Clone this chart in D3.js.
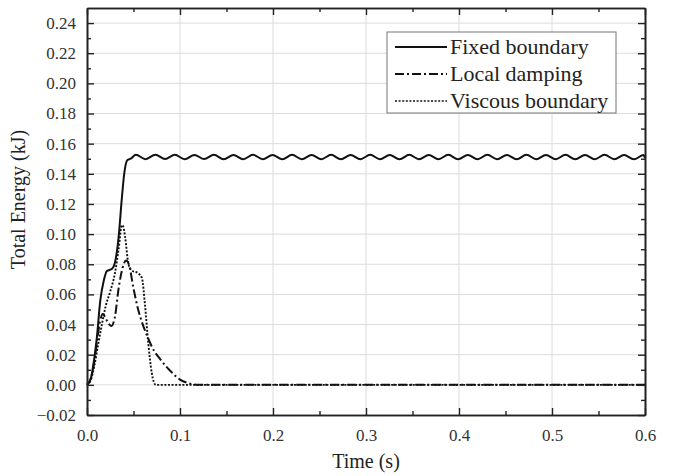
<!DOCTYPE html>
<html>
<head>
<meta charset="utf-8">
<script src="https://cdn.jsdelivr.net/npm/d3@7"></script>
<style>
  body { margin: 0; background: #fff; }
  text { font-family: "Liberation Serif", "Times New Roman", serif; }
</style>
</head>
<body>
<svg id="drawing_region"></svg>
<script>
// axis ticks
const xTicks = [0, 0.1, 0.2, 0.3, 0.4, 0.5, 0.6];
const xMinor = [0.05, 0.15, 0.25, 0.35, 0.45, 0.55];
const yTicks = [-0.02, 0, 0.02, 0.04, 0.06, 0.08, 0.10, 0.12, 0.14, 0.16, 0.18, 0.20, 0.22, 0.24];
const yMinor = [-0.01, 0.01, 0.03, 0.05, 0.07, 0.09, 0.11, 0.13, 0.15, 0.17, 0.19, 0.21, 0.23];

const seriesNames = ["Fixed boundary", "Local damping", "Viscous boundary"];

// Fixed boundary (wavy plateau ~0.151)
const fixedT = [0, 0.004, 0.007, 0.0107, 0.0143, 0.018, 0.0214, 0.027, 0.030, 0.034, 0.0375, 0.040, 0.0433, 0.047,
  0.0525, 0.063, 0.0735, 0.084, 0.0945, 0.105, 0.1155, 0.126, 0.1365, 0.147, 0.1575, 0.168, 0.1785, 0.189, 0.1995,
  0.210, 0.2205, 0.231, 0.2415, 0.252, 0.2625, 0.273, 0.2835, 0.294, 0.3045, 0.315, 0.3255, 0.336, 0.3465, 0.357,
  0.3675, 0.378, 0.3885, 0.399, 0.4095, 0.420, 0.4305, 0.441, 0.4515, 0.462, 0.4725, 0.483, 0.4935, 0.504, 0.5145,
  0.525, 0.5355, 0.546, 0.5565, 0.567, 0.5775, 0.588, 0.5985, 0.6];
const fixedE = [0, 0.004, 0.014, 0.032, 0.056, 0.069, 0.0755, 0.077, 0.081, 0.098, 0.124, 0.140, 0.149, 0.1500,
  0.1526, 0.1497, 0.1527, 0.1498, 0.1526, 0.1497, 0.1525, 0.1498, 0.1526, 0.1496, 0.1525, 0.1497, 0.1526,
  0.1497, 0.1525, 0.1496, 0.1526, 0.1497, 0.1525, 0.1497, 0.1526, 0.1496, 0.1525, 0.1497, 0.1526, 0.1497,
  0.1525, 0.1496, 0.1526, 0.1497, 0.1525, 0.1497, 0.1526, 0.1496, 0.1525, 0.1497, 0.1526, 0.1497, 0.1525,
  0.1496, 0.1526, 0.1497, 0.1525, 0.1497, 0.1526, 0.1496, 0.1525, 0.1497, 0.1526, 0.1497, 0.1525, 0.1496,
  0.1524, 0.1505];

// Local damping
const dampT = [0, 0.004, 0.008, 0.011, 0.014, 0.017, 0.021, 0.026, 0.030, 0.034, 0.038, 0.042, 0.045, 0.050,
  0.055, 0.060, 0.065, 0.070, 0.080, 0.090, 0.100, 0.110, 0.120, 0.6];
const dampE = [0, 0.004, 0.016, 0.030, 0.042, 0.047, 0.043, 0.039, 0.045, 0.064, 0.077, 0.0825, 0.080, 0.064,
  0.050, 0.040, 0.032, 0.025, 0.016, 0.009, 0.0035, 0.001, 0, 0];

// Viscous boundary
const viscT = [0, 0.004, 0.008, 0.012, 0.016, 0.020, 0.025, 0.030, 0.034, 0.0375, 0.039, 0.041, 0.0446, 0.048,
  0.055, 0.059, 0.0625, 0.066, 0.0696, 0.074, 0.6];
const viscE = [0, 0.003, 0.013, 0.027, 0.040, 0.052, 0.062, 0.074, 0.090, 0.106, 0.105, 0.098, 0.080, 0.076,
  0.074, 0.071, 0.052, 0.027, 0.008, 0, 0];

const config = {
  parent: '#drawing_region',
  width: 673,
  height: 476,
  margin: { top: 8, right: 28, bottom: 61, left: 87 }
};

const svg = d3.select(config.parent)
  .attr('width', config.width)
  .attr('height', config.height);

const w = config.width - config.margin.left - config.margin.right;
const h = config.height - config.margin.top - config.margin.bottom;

const chart = svg.append('g')
  .attr('transform', `translate(${config.margin.left}, ${config.margin.top})`);

const x = d3.scaleLinear().domain([0, 0.6]).range([0, w]);
const y = d3.scaleLinear().domain([-0.02, 0.25]).range([h, 0]);

// grid
chart.append('g')
  .selectAll('line.vg')
  .data(xTicks.slice(1, -1))
  .join('line')
  .attr('x1', d => x(d)).attr('x2', d => x(d))
  .attr('y1', 0).attr('y2', h)
  .attr('stroke', '#dcdcdc').attr('stroke-width', 1);

chart.append('g')
  .selectAll('line.hg')
  .data(yTicks.slice(1))
  .join('line')
  .attr('x1', 0).attr('x2', w)
  .attr('y1', d => y(d)).attr('y2', d => y(d))
  .attr('stroke', '#dcdcdc').attr('stroke-width', 1);

// lines
const line = (ts, es) => d3.line()
  .x(i => x(ts[i]))
  .y(i => y(es[i]))
  .curve(d3.curveMonotoneX)(d3.range(ts.length));

const styles = [
  { dash: null },
  { dash: '9,3,2,3' },
  { dash: '2,1.6' }
];

chart.append('path')
  .attr('d', line(fixedT, fixedE))
  .attr('fill', 'none').attr('stroke', '#111').attr('stroke-width', 2);
chart.append('path')
  .attr('d', line(dampT, dampE))
  .attr('fill', 'none').attr('stroke', '#111').attr('stroke-width', 2)
  .attr('stroke-dasharray', styles[1].dash);
chart.append('path')
  .attr('d', line(viscT, viscE))
  .attr('fill', 'none').attr('stroke', '#111').attr('stroke-width', 1.9)
  .attr('stroke-dasharray', styles[2].dash);

// axes, ticks pointing inward
function styleAxis(g) {
  g.select('.domain').attr('stroke', '#222').attr('stroke-width', 1.6);
  g.selectAll('.tick line').attr('stroke', '#222').attr('stroke-width', 1.4);
  g.selectAll('.tick text').attr('fill', '#333').style('font-size', '17px')
    .style('font-family', '"Liberation Serif", serif');
}

const fmtX = d3.format('.1f');
const fmtY = d3.format('.2f');

chart.append('g').attr('transform', `translate(0,${h})`)
  .call(d3.axisBottom(x).tickValues(xTicks).tickFormat(fmtX).tickSizeInner(-7).tickSizeOuter(0).tickPadding(14))
  .call(styleAxis);
chart.append('g').attr('transform', `translate(0,${h})`)
  .call(d3.axisBottom(x).tickValues(xMinor).tickFormat('').tickSizeInner(-4).tickSizeOuter(0))
  .call(styleAxis);
chart.append('g')
  .call(d3.axisTop(x).tickValues(xTicks).tickFormat('').tickSizeInner(-7).tickSizeOuter(0))
  .call(styleAxis);
chart.append('g')
  .call(d3.axisTop(x).tickValues(xMinor).tickFormat('').tickSizeInner(-4).tickSizeOuter(0))
  .call(styleAxis);

chart.append('g')
  .call(d3.axisLeft(y).tickValues(yTicks).tickFormat(fmtY).tickSizeInner(-7).tickSizeOuter(0).tickPadding(11))
  .call(styleAxis);
chart.append('g')
  .call(d3.axisLeft(y).tickValues(yMinor).tickFormat('').tickSizeInner(-4).tickSizeOuter(0))
  .call(styleAxis);
chart.append('g').attr('transform', `translate(${w},0)`)
  .call(d3.axisRight(y).tickValues(yTicks).tickFormat('').tickSizeInner(-7).tickSizeOuter(0))
  .call(styleAxis);
chart.append('g').attr('transform', `translate(${w},0)`)
  .call(d3.axisRight(y).tickValues(yMinor).tickFormat('').tickSizeInner(-4).tickSizeOuter(0))
  .call(styleAxis);

// axis titles
svg.append('text')
  .attr('x', config.margin.left + w / 2)
  .attr('y', 468)
  .attr('text-anchor', 'middle')
  .attr('fill', '#222')
  .style('font-size', '20px')
  .text('Time (s)');

svg.append('text')
  .attr('transform', `translate(25, ${config.margin.top + h / 2 - 12}) rotate(-90)`)
  .attr('text-anchor', 'middle')
  .attr('fill', '#222')
  .style('font-size', '20px')
  .text('Total Energy (kJ)');

// legend
const legend = svg.append('g').attr('transform', 'translate(387, 32)');
legend.append('rect')
  .attr('width', 229).attr('height', 81)
  .attr('fill', '#fff').attr('stroke', '#777').attr('stroke-width', 1);

const rows = legend.selectAll('g.row')
  .data(seriesNames)
  .join('g')
  .attr('transform', (d, i) => `translate(0, ${15 + i * 27})`);

rows.append('line')
  .attr('x1', 8).attr('x2', 60)
  .attr('y1', 0).attr('y2', 0)
  .attr('stroke', '#111')
  .attr('stroke-width', (d, i) => i === 2 ? 1.6 : 2)
  .attr('stroke-dasharray', (d, i) => styles[i].dash);

rows.append('text')
  .attr('x', 63).attr('y', 7)
  .attr('fill', '#222')
  .style('font-size', '22px')
  .text(d => d);
</script>
</body>
</html>
